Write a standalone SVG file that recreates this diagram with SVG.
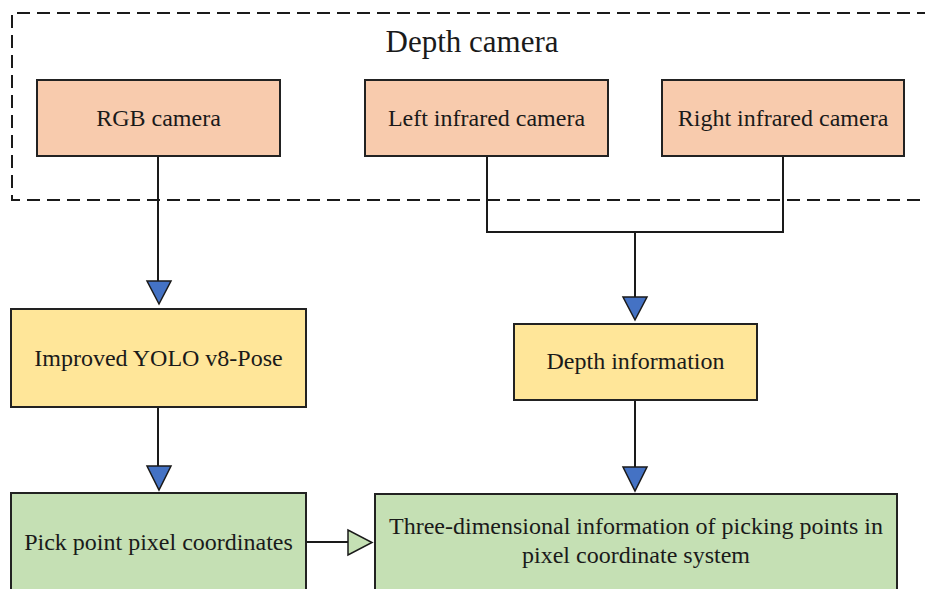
<svg xmlns="http://www.w3.org/2000/svg" width="925" height="589" viewBox="0 0 925 589">
<style>
.t{font-family:"Liberation Serif","Times New Roman",serif;font-size:24px;fill:#1a1a1a;text-anchor:middle}
.box{stroke:#222;stroke-width:2}
.peach{fill:#F8CBAD}
.yellow{fill:#FFE699}
.green{fill:#C5E0B4}
.ln{fill:none;stroke:#1a1a1a;stroke-width:2}
.ah{fill:#4472C4;stroke:#1a1a1a;stroke-width:1.5;stroke-linejoin:miter}
.ahh{fill:#C5E0B4;stroke:#1a1a1a;stroke-width:1.5}
</style>
<rect width="925" height="589" fill="#fff"/>
<g id="depth-camera-group">
<path d="M930 13 H12 V200 H930" fill="none" stroke="#1a1a1a" stroke-width="2" stroke-dasharray="13 7"/>
<text class="t" x="472" y="52" style="font-size:31px">Depth camera</text>
</g>
<g id="connectors">
<path class="ln" d="M158 156 V282"/>
<path class="ln" d="M487 156 V232 H783 V156"/>
<path class="ln" d="M635 232 V298"/>
<path class="ln" d="M158 407 V467"/>
<path class="ln" d="M635 400 V468"/>
<path class="ln" d="M306 542 H348"/>
<polygon class="ah" points="147,281 171,281 159,304"/>
<polygon class="ah" points="623,297 647,297 635,320"/>
<polygon class="ah" points="147,466 171,466 159,490"/>
<polygon class="ah" points="623,467 647,467 635,491"/>
<polygon class="ahh" points="348,530 348,555 372,542.5"/>
</g>
<g id="rgb-camera">
<rect class="box peach" x="37" y="80" width="243" height="76"/>
<text class="t" x="158.5" y="126">RGB camera</text>
</g>
<g id="left-infrared-camera">
<rect class="box peach" x="365" y="80" width="243" height="76"/>
<text class="t" x="486.5" y="126">Left infrared camera</text>
</g>
<g id="right-infrared-camera">
<rect class="box peach" x="662" y="80" width="242" height="76"/>
<text class="t" x="783" y="126">Right infrared camera</text>
</g>
<g id="improved-yolo">
<rect class="box yellow" x="11" y="309" width="295" height="98"/>
<text class="t" x="158.5" y="366">Improved YOLO v8-Pose</text>
</g>
<g id="depth-information">
<rect class="box yellow" x="514" y="324" width="243" height="76"/>
<text class="t" x="635.5" y="369">Depth information</text>
</g>
<g id="pick-point">
<rect class="box green" x="11" y="493" width="295" height="110"/>
<text class="t" x="158.5" y="550">Pick point pixel coordinates</text>
</g>
<g id="three-dimensional">
<rect class="box green" x="375" y="494" width="522" height="110"/>
<text class="t" x="636" y="534">Three-dimensional information of picking points in</text>
<text class="t" x="636" y="563">pixel coordinate system</text>
</g>
</svg>
